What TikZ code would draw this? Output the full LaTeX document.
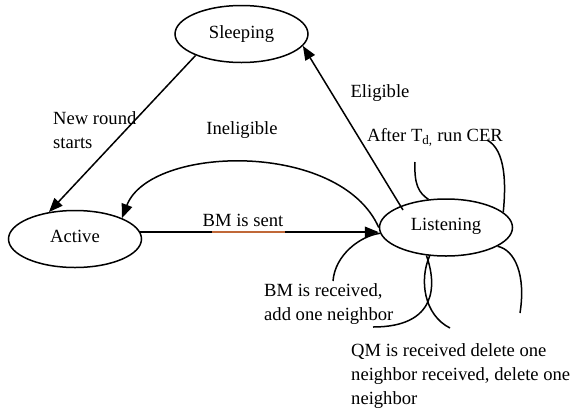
\documentclass[tikz,border=0pt]{standalone}
\usepackage{fontspec}
\setmainfont{Liberation Serif}
\usetikzlibrary{shapes.geometric,arrows.meta,calc}
\definecolor{bmorange}{RGB}{192,104,56}
\begin{document}
\begin{tikzpicture}[x=1pt,y=-1pt,
  every node/.style={font=\fontsize{18.6}{24}\selectfont},
  state/.style={ellipse,draw,line width=1.5pt,minimum width=133pt,minimum height=57pt,inner sep=0pt},
  conn/.style={line width=1.5pt},
  arr/.style={conn,-{Triangle[length=14pt,width=11pt]}},
  lbl/.style={inner sep=0pt,align=left}]
\useasboundingbox (0,0) rectangle (576,413);
% states
\node[state] (sleep) at (241.5,34) {\raisebox{2pt}{Sleeping}};
\node[state] (active) at (75,239) {\raisebox{5pt}{Active}};
\node[state] (listen) at (446,227.5) {\raisebox{6pt}{Listening}};
% free ends
\coordinate (eligstart) at (403,210);
\coordinate (c1) at (415,162);
\coordinate (c2) at (487,140);
\coordinate (c3) at (333,281);
\coordinate (c4a) at (373,327);
\coordinate (c4b) at (450,328);
\coordinate (c5) at (520,313);
% transitions
\draw[arr] (sleep.205) -- (active.134);
\draw[arr] (eligstart) -- (sleep.-11);
\draw[arr] (listen.west) .. controls (340,140) and (150,145) .. (active.24);
\draw[arr] (active.6) -- (active.6 -| listen.west);
\path (active.6) ++(72,0) coordinate (bmL) ++(73,0) coordinate (bmR);
\draw[conn,bmorange] (bmL) -- (bmR);
% self loops (open)
\draw[conn] (listen.122) .. controls (419,193) and (414,185) .. (c1);
\draw[conn] (listen.15) .. controls (506,185) and (506,150) .. (c2);
\draw[conn] (listen.185) .. controls (360,236) and (335,255) .. (c3);
\draw[conn] (listen.235) .. controls (437,285) and (437,327) .. (c4a);
\draw[conn] (listen.240) .. controls (419,280) and (424,315) .. (c4b);
\draw[conn] (listen.-20) .. controls (515,250) and (526,275) .. (c5);
% labels
\node[lbl] (bm) at (243,220) {BM is sent};
\node[lbl,anchor=west] (newround) at (53,130) {New round\\starts};
\node[lbl] (inel) at (242,130) {Ineligible};
\node[lbl] (elig) at (380,93) {Eligible};
\node[lbl] (after) at (435,137) {After T\textsubscript{d,} run CER};
\node[lbl,anchor=west] (bmrec) at (264,304) {BM is received,\\add one neighbor};
\node[lbl,anchor=west] (qm) at (351,376) {QM is received delete one\\neighbor received, delete one\\neighbor};
\end{tikzpicture}
\end{document}
